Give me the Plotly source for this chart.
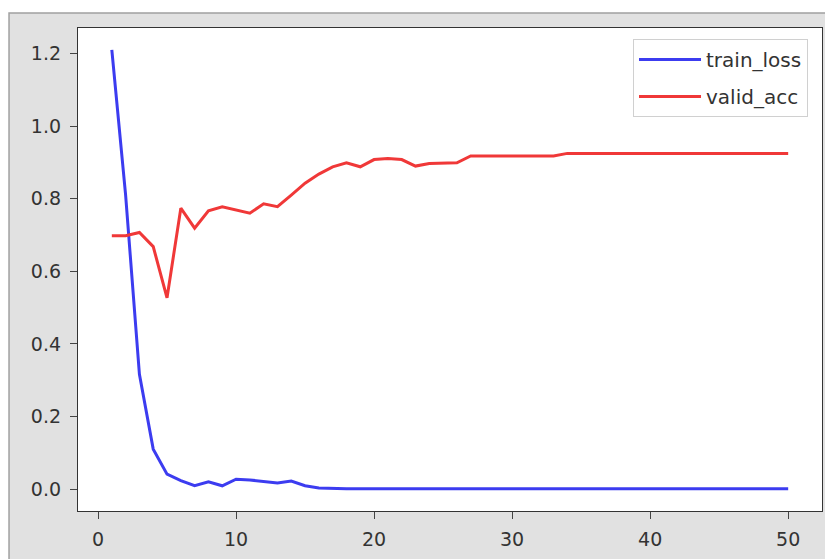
import plotly.graph_objects as go

epochs = list(range(1, 51))
train_loss = [1.21, 0.81, 0.316, 0.11, 0.041, 0.023, 0.009, 0.02, 0.009, 0.027,
              0.025, 0.02, 0.017, 0.022, 0.009, 0.003, 0.001, 0.001, 0.001, 0.001,
              0.001, 0.001, 0.001, 0.001, 0.001, 0.001, 0.001, 0.001, 0.001, 0.001,
              0.001, 0.001, 0.001, 0.001, 0.001, 0.001, 0.001, 0.001, 0.001, 0.001,
              0.001, 0.001, 0.001, 0.001, 0.001, 0.001, 0.001, 0.001, 0.001, 0.001]
valid_acc = [0.698, 0.698, 0.707, 0.668, 0.527, 0.774, 0.719, 0.767, 0.778, 0.770,
             0.760, 0.786, 0.778, 0.810, 0.843, 0.868, 0.888, 0.899, 0.888, 0.908,
             0.911, 0.908, 0.890, 0.897, 0.897, 0.899, 0.918, 0.918, 0.918, 0.918,
             0.918, 0.918, 0.918, 0.925, 0.925, 0.925, 0.925, 0.925, 0.925, 0.925,
             0.925, 0.925, 0.925, 0.925, 0.925, 0.925, 0.925, 0.925, 0.925, 0.925]
x_ticks = [0, 10, 20, 30, 40, 50]
y_ticks = [0.0, 0.2, 0.4, 0.6, 0.8, 1.0, 1.2]

FONT = "DejaVu Sans"
TXT = "#333333"

fig = go.Figure()
fig.add_trace(go.Scatter(x=epochs, y=train_loss, mode="lines", name="train_loss",
                         legendgroup="a",
                         line=dict(color="#3c3cf0", width=3)))
fig.add_trace(go.Scatter(x=epochs, y=valid_acc, mode="lines", name="valid_acc",
                         legendgroup="b",
                         line=dict(color="#f03838", width=3)))

axis_common = dict(showline=True, mirror=True, linecolor="#333333", linewidth=1.3,
                   ticks="outside", ticklen=7, tickwidth=1.3, tickcolor="#444444",
                   showgrid=False, zeroline=False,
                   tickfont=dict(family=FONT, size=19, color=TXT))

fig.update_layout(
    width=825, height=559,
    margin=dict(l=78, r=3, t=28, b=48),
    paper_bgcolor="white",
    plot_bgcolor="white",
    showlegend=True,
    legend=dict(x=0.9812, y=0.977, xanchor="right", yanchor="top",
                bgcolor="white", bordercolor="#d0d0d0", borderwidth=1,
                font=dict(family=FONT, size=20, color=TXT),
                itemwidth=62,
                tracegroupgap=8, traceorder="grouped"),
    xaxis=dict(range=[-1.45, 52.45], tickvals=x_ticks, ticklabelstandoff=4, **axis_common),
    yaxis=dict(range=[-0.0605, 1.2705], tickvals=y_ticks, tickformat=".1f",
               ticklabelstandoff=5, **axis_common),
    shapes=[
        dict(type="rect", xref="paper", yref="paper",
             x0=-0.0927, x1=1.05, y0=-0.25, y1=1.031,
             fillcolor="#e1e1e1", line=dict(color="#a0a0a0", width=1.5), layer="below"),
        dict(type="rect", xref="paper", yref="paper",
             x0=0, x1=1, y0=0, y1=1,
             fillcolor="white", line=dict(width=0), layer="below"),
    ],
)

fig.write_html("out.html")
